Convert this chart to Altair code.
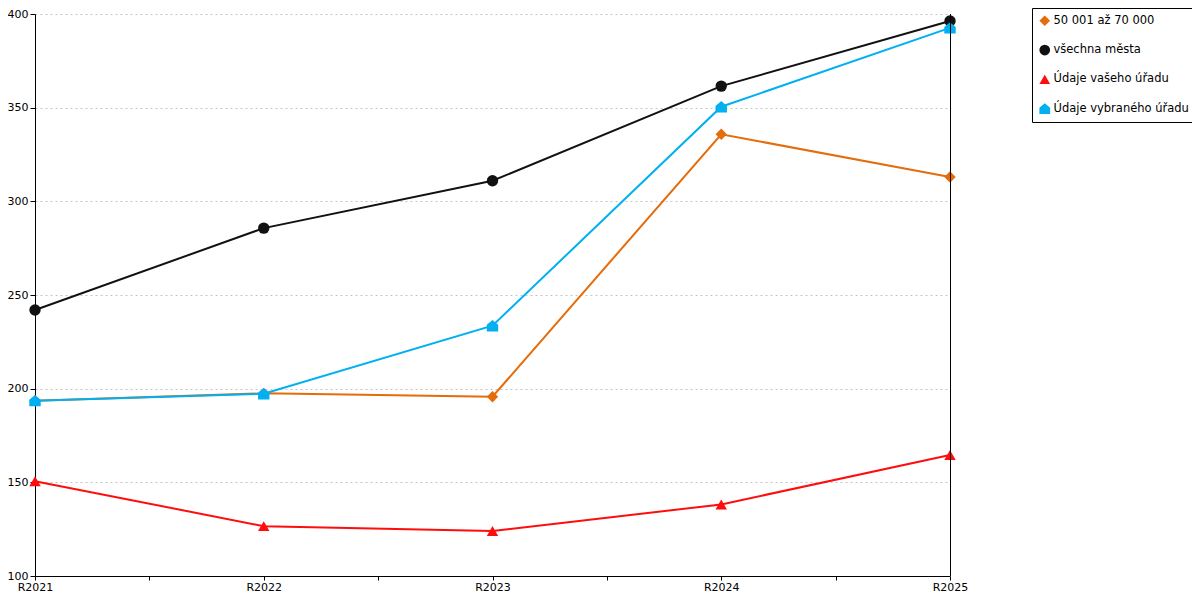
import altair as alt
import pandas as pd

years = ["R2021", "R2022", "R2023", "R2024", "R2025"]
series = ["50 001 až 70 000", "všechna města", "Údaje vašeho úřadu", "Údaje vybraného úřadu"]
v_group = [193.5, 197.5, 195.7, 335.8, 313.0]
v_all = [242.0, 285.7, 311.0, 361.5, 396.3]
v_yours = [150.6, 126.6, 124.0, 138.2, 164.6]
v_selected = [193.6, 197.3, 233.6, 350.5, 392.6]

colors = ["#e46c0a", "#111111", "#ff0d0d", "#00b0f0"]
house = "M0,-1L1,-0.15L1,1L-1,1L-1,-0.15Z"
shapes = ["diamond", "circle", "triangle-up", house]

rows = []
for name, vals in zip(series, [v_group, v_all, v_yours, v_selected]):
    for i, v in enumerate(vals):
        rows.append({"series": name, "idx": i, "value": v})
df = pd.DataFrame(rows)

W, H = 915, 562

label_arr = "[" + ",".join("'" + y + "'" for y in years) + "]"
x_enc = alt.X(
    "idx:Q",
    scale=alt.Scale(domain=[0, len(years) - 1], nice=False, zero=False),
    axis=alt.Axis(
        title=None,
        values=[i * 0.5 for i in range(2 * (len(years) - 1) + 1)],
        labelExpr=f"datum.value % 1 === 0 ? {label_arr}[datum.value] : ''",
        grid=False,
        tickSize=4,
        labelPadding=1,
        labelFlush=False,
        labelOverlap=False,
    ),
)
y_enc = alt.Y(
    "value:Q",
    scale=alt.Scale(domain=[100, 400], nice=False, zero=False),
    axis=alt.Axis(
        title=None,
        values=[100, 150, 200, 250, 300, 350, 400],
        grid=True,
        gridDash=[2, 3],
        gridColor="#c4c4c4",
        gridWidth=1,
        tickSize=5,
        labelPadding=2,
    ),
)

color_enc = alt.Color("series:N", scale=alt.Scale(domain=series, range=colors), title=None)
shape_enc = alt.Shape("series:N", scale=alt.Scale(domain=series, range=shapes), title=None)

lines = alt.Chart(df).mark_line(strokeWidth=2).encode(x=x_enc, y=y_enc, color=color_enc)

points = alt.Chart(df).mark_point(filled=True, opacity=1, size=130).encode(
    x=x_enc, y=y_enc, color=color_enc, shape=shape_enc
)

edge = alt.Chart(pd.DataFrame({"a": [0]})).mark_rule(color="#000000", strokeWidth=1).encode(
    x=alt.value(W + 0.5), y=alt.value(0), y2=alt.value(H)
)

chart = (
    alt.layer(lines, points, edge)
    .properties(
        width=W,
        height=H,
        autosize=alt.AutoSizeParams(type="none"),
        padding={"left": 27, "top": 6, "right": 242, "bottom": 16},
        background="#ffffff",
    )
    .configure_view(strokeWidth=0)
    .configure_axis(
        labelFont="DejaVu Sans",
        labelFontSize=11,
        labelColor="#000000",
        domainColor="#000000",
        tickColor="#000000",
        domainWidth=1,
        tickWidth=1,
    )
    .configure_legend(
        orient="none",
        legendX=997,
        legendY=-6,
        strokeColor="#000000",
        fillColor="#ffffff",
        padding=7,
        labelFont="DejaVu Sans",
        labelFontSize=11.5,
        labelColor="#000000",
        symbolSize=115,
        symbolStrokeWidth=0,
        rowPadding=16.3,
        labelOffset=3,
    )
)

chart.save("out.html", embed_options={"renderer": "svg", "actions": False})
